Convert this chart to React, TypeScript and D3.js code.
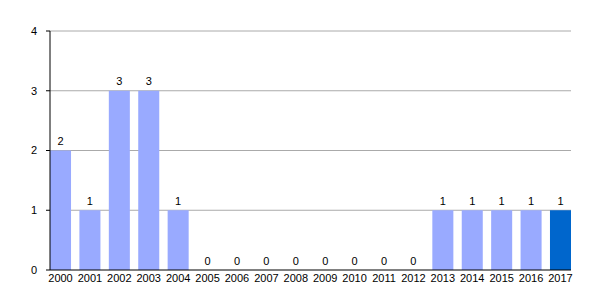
import React from "react";
import * as d3 from "d3";

const years = ["2000","2001","2002","2003","2004","2005","2006","2007","2008","2009","2010","2011","2012","2013","2014","2015","2016","2017"];
const counts = [2,1,3,3,1,0,0,0,0,0,0,0,0,1,1,1,1,1];
const yTicks = [0,1,2,3,4];
const highlightYear = "2017";

export default function App() {
  const W = 600, H = 300;
  const left = 50, right = 571, top = 31, bottom = 270;
  const x = d3.scaleBand<string>().domain(years).range([left, right]).paddingInner(0.285).paddingOuter(0);
  const y = d3.scaleLinear().domain([0, 4]).range([bottom, top]);
  const font = "Liberation Sans, Arial, sans-serif";
  return (
    <svg width={W} height={H} style={{ position: "absolute", left: 0, top: 0 }} fontFamily={font}>
      <rect width={W} height={H} fill="#fff" />
      {yTicks.map(t => (
        <g key={t}>
          {t > 0 && <line x1={left} x2={right} y1={y(t)} y2={y(t)} stroke="#aaa" strokeWidth={1} />}
          <line x1={left - 4} x2={left} y1={y(t)} y2={y(t)} stroke="#000" strokeWidth={1} />
          <text x={left - 13} y={y(t)} dy="0.35em" textAnchor="end" fontSize={11} fill="#000">{t}</text>
        </g>
      ))}
      {years.map((yr, i) => (
        <g key={yr}>
          <rect x={x(yr)} y={y(counts[i])} width={x.bandwidth()} height={bottom - y(counts[i])}
            fill={yr === highlightYear ? "#0066cc" : "#99aaff"} />
          <text x={(x(yr) as number) + x.bandwidth() / 2} y={y(counts[i]) - 5.5} textAnchor="middle" fontSize={11} fill="#000">{counts[i]}</text>
          <text x={(x(yr) as number) + x.bandwidth() / 2} y={bottom + 12} textAnchor="middle" fontSize={11} fill="#000">{yr}</text>
        </g>
      ))}
      <line x1={left} x2={left} y1={top} y2={bottom} stroke="#000" strokeWidth={1} />
      <line x1={left} x2={right} y1={bottom} y2={bottom} stroke="#000" strokeWidth={1} />
    </svg>
  );
}
